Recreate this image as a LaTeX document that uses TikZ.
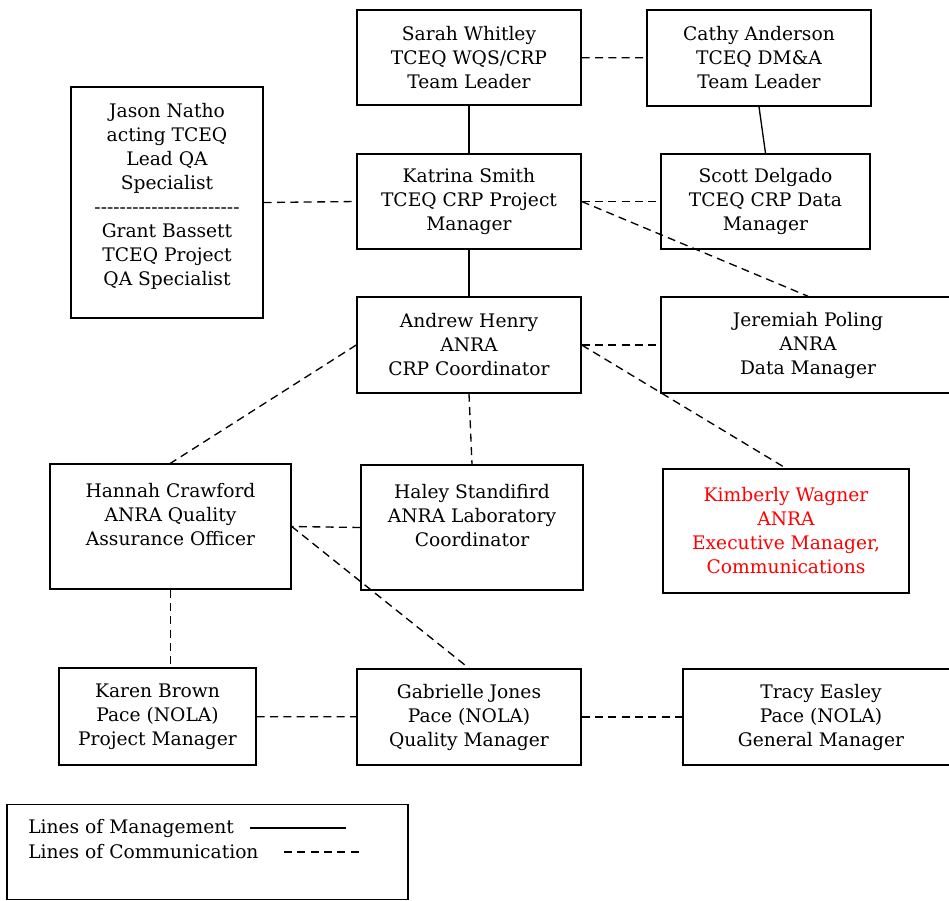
\documentclass[tikz,border=0pt]{standalone}
\usepackage{fontspec}
\setmainfont{DejaVu Serif}
\tikzset{
  person/.style={draw, line width=1.1pt, align=center, inner sep=0pt,
    font=\fontsize{14}{18}\selectfont},
  mgmt/.style={line width=1pt},
  comm/.style={line width=1pt, dash pattern=on 6pt off 4pt}
}
\begin{document}
\begin{tikzpicture}[x=0.75pt, y=-0.75pt]
        \useasboundingbox (0,0) rectangle (949,900);

        % TCEQ
        \node[person, minimum width=224*0.75pt, minimum height=95*0.75pt] (sarah) at (469,57.5) {Sarah Whitley\\TCEQ WQS/CRP\\Team Leader};
        \node[person, minimum width=224*0.75pt, minimum height=96*0.75pt] (cathy) at (759,58) {Cathy Anderson\\TCEQ DM\&A\\Team Leader};
        \node[person, minimum width=192*0.75pt, minimum height=231*0.75pt] (jason) at (167,202.5) {Jason Natho\\acting TCEQ\\Lead QA\\Specialist\\-{}-{}-{}-{}-{}-{}-{}-{}-{}-{}-{}-{}-{}-{}-{}-{}-{}-{}-{}-{}-{}-{}-\\Grant Bassett\\TCEQ Project\\QA Specialist\\[-6pt]~};
        \node[person, minimum width=224*0.75pt, minimum height=95*0.75pt] (katrina) at (469,201.5) {Katrina Smith\\TCEQ CRP Project\\Manager};
        \node[person, minimum width=209*0.75pt, minimum height=95*0.75pt] (scott) at (765.5,201.5) {Scott Delgado\\TCEQ CRP Data\\Manager};

        % ANRA
        \node[person, minimum width=224*0.75pt, minimum height=96*0.75pt] (andrew) at (469,345) {Andrew Henry\\ANRA\\CRP Coordinator};
        \node[person, minimum width=294*0.75pt, minimum height=96*0.75pt] (jeremiah) at (808,345) {Jeremiah Poling\\ANRA\\Data Manager};
        \node[person, minimum width=241*0.75pt, minimum height=125*0.75pt] (hannah) at (170.5,526.5) {Hannah Crawford\\ANRA Quality\\Assurance Officer\\~};
        \node[person, minimum width=222*0.75pt, minimum height=125*0.75pt] (haley) at (472,527.5) {Haley Standifird\\ANRA Laboratory\\Coordinator\\~};
        \node[person, minimum width=246*0.75pt, minimum height=124*0.75pt, text=red] (kimberly) at (786,531) {Kimberly Wagner\\ANRA\\Executive Manager,\\Communications};

        % Pace (NOLA)
        \node[person, minimum width=197*0.75pt, minimum height=97*0.75pt] (karen) at (157.5,716.5) {Karen Brown\\Pace (NOLA)\\Project Manager};
        \node[person, minimum width=224*0.75pt, minimum height=96*0.75pt] (gabrielle) at (469,717) {Gabrielle Jones\\Pace (NOLA)\\Quality Manager};
        \node[person, minimum width=276*0.75pt, minimum height=96*0.75pt] (tracy) at (821,717) {Tracy Easley\\Pace (NOLA)\\General Manager};

        % Lines of management
        \draw[mgmt] (sarah) -- (katrina);
        \draw[mgmt] (katrina) -- (andrew);
        \draw[mgmt] (cathy.south) -- (scott.north);

        % Lines of communication
        \draw[comm] (sarah) -- (cathy);
        \draw[comm] (jason.east) -- (katrina.west);
        \draw[comm] (katrina.east) -- (scott.west);
        \draw[comm] (katrina.east) -- (jeremiah.north);
        \draw[comm] (andrew.east) -- (jeremiah.west);
        \draw[comm] (andrew.east) -- (kimberly.north);
        \draw[comm] (andrew.west) -- (hannah.north);
        \draw[comm] (andrew.south) -- (haley.north);
        \draw[comm] (haley.west) -- (hannah.east);
        \draw[comm] (hannah.east) -- (gabrielle.north);
        \draw[comm] (hannah.south) -- (hannah.south |- karen.north);
        \draw[comm] (karen) -- (gabrielle);
        \draw[comm] (gabrielle) -- (tracy);

        % Legend
        \node[draw, line width=1.1pt, minimum width=401*0.75pt, minimum height=95*0.75pt, inner sep=0pt] (legend) at (207.5,852) {};
        \node[anchor=west, inner sep=0pt, font=\fontsize{14}{18}\selectfont] (mgmttext) at (28,828) {Lines of Management};
        \node[anchor=west, inner sep=0pt, font=\fontsize{14}{18}\selectfont] (commtext) at (28,852) {Lines of Communication};
        \coordinate (mgmtend) at (346,828);
        \coordinate (commend) at (360,852);
        \draw[mgmt] (250,828) -- (mgmtend);
        \draw[comm] (284,852) -- (commend);
    \end{tikzpicture}
\end{document}
